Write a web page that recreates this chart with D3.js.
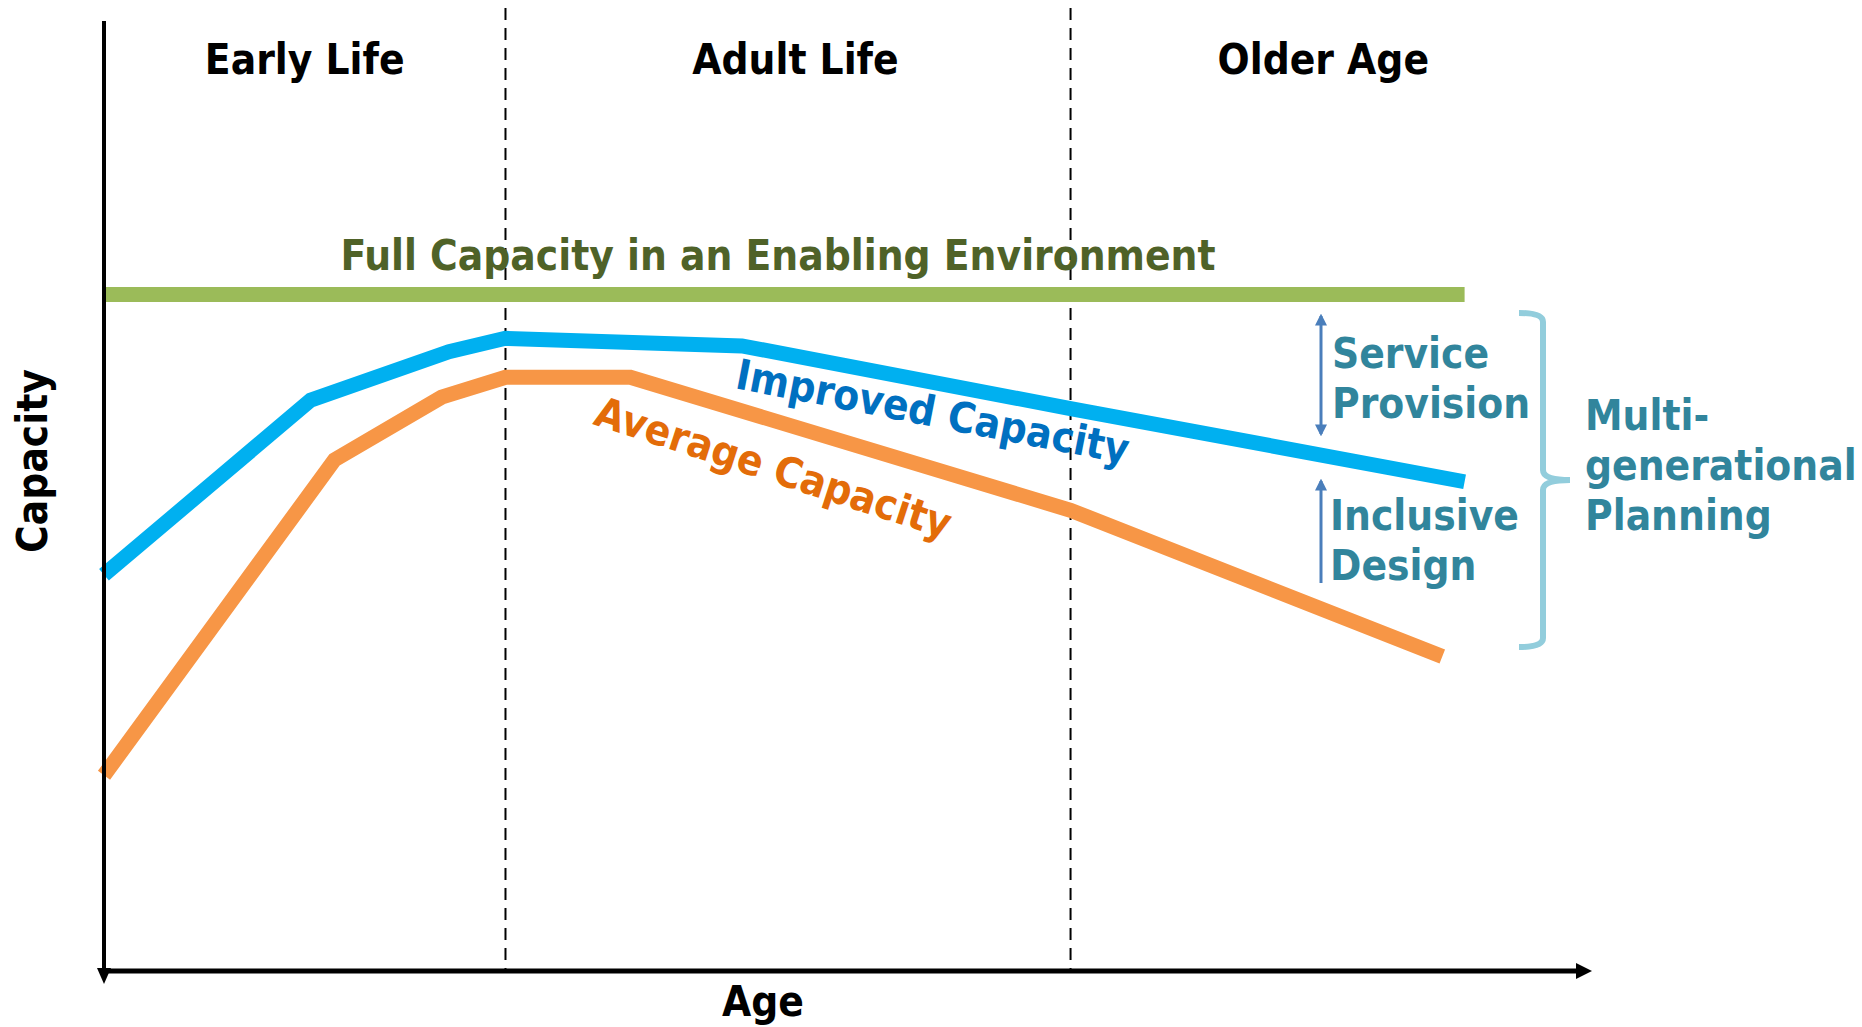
<!DOCTYPE html>
<html>
<head>
<meta charset="utf-8">
<script src="https://cdn.jsdelivr.net/npm/d3@7"></script>
<style>
  body { margin: 0; background: #fff; }
  text { font-family: "DejaVu Sans Condensed", "DejaVu Sans", sans-serif; font-weight: bold; }
</style>
</head>
<body>
<svg id="chart" width="1862" height="1027"></svg>
<script>
// age runs 0..100 along the x axis, capacity 0..100 up the y axis
var ages_improved = [0, 13.9, 23.2, 27, 42.9, 65, 91.5];
var improved = [41.7, 60.1, 65.2, 66.6, 65.8, 59.2, 51.5];

var ages_average = [0, 15.5, 22.7, 27, 35.4, 65, 90];
var average = [20.6, 53.8, 60.4, 62.5, 62.5, 48.5, 33.1];

var full_ages = [0, 91.5];
var full_capacity = [71.2, 71.2];

var phase_bounds = [27, 65];
var phases = ["Early Life", "Adult Life", "Older Age"];
var phase_centers = [13.5, 46.5, 82];

var w = 1862, h = 1027;
var svg = d3.select("#chart");
svg.append("rect").attr("width", w).attr("height", h).attr("fill", "#fff");

var x = d3.scaleLinear().domain([0, 100]).range([104, 1591]);
var y = d3.scaleLinear().domain([0, 100]).range([971, 21]);

// dashed phase separators
svg.selectAll("line.phase")
  .data(phase_bounds)
  .enter().append("line")
  .attr("class", "phase")
  .attr("x1", function(d) { return x(d); })
  .attr("x2", function(d) { return x(d); })
  .attr("y1", 8)
  .attr("y2", y(0))
  .attr("stroke", "#000")
  .attr("stroke-width", 2)
  .style("stroke-dasharray", "12,8");

// phase titles
svg.selectAll("text.phase")
  .data(phases)
  .enter().append("text")
  .attr("class", "phase")
  .attr("x", function(d, i) { return x(phase_centers[i]); })
  .attr("y", 74)
  .attr("text-anchor", "middle")
  .attr("font-size", 42)
  .attr("fill", "#000")
  .text(function(d) { return d; });

var line = d3.line()
  .x(function(d) { return x(d[0]); })
  .y(function(d) { return y(d[1]); });

// full capacity line
svg.append("path")
  .datum(d3.zip(full_ages, full_capacity))
  .attr("d", line)
  .attr("fill", "none")
  .attr("stroke", "#9BBB59")
  .attr("stroke-width", 15);

svg.append("text")
  .attr("x", 778)
  .attr("y", 270)
  .attr("text-anchor", "middle")
  .attr("font-size", 42)
  .attr("fill", "#4F6228")
  .text("Full Capacity in an Enabling Environment");

// capacity curves
svg.append("path")
  .datum(d3.zip(ages_improved, improved))
  .attr("d", line)
  .attr("fill", "none")
  .attr("stroke", "#00B0F0")
  .attr("stroke-width", 15);

svg.append("path")
  .datum(d3.zip(ages_average, average))
  .attr("d", line)
  .attr("fill", "none")
  .attr("stroke", "#F79646")
  .attr("stroke-width", 15);

svg.append("text")
  .attr("transform", "translate(734,388) rotate(11)")
  .attr("font-size", 42)
  .attr("fill", "#0070C0")
  .text("Improved Capacity");

svg.append("text")
  .attr("transform", "translate(592,424) rotate(18)")
  .attr("font-size", 42)
  .attr("fill", "#E36C09")
  .text("Average Capacity");

// axes
svg.append("line")
  .attr("x1", x(0)).attr("x2", x(0))
  .attr("y1", 21).attr("y2", 972)
  .attr("stroke", "#000").attr("stroke-width", 4);
svg.append("path")
  .attr("d", "M" + (x(0) - 7) + "," + 968 + "L" + (x(0) + 7) + "," + 968 + "L" + x(0) + "," + 984 + "Z")
  .attr("fill", "#000");

svg.append("line")
  .attr("x1", x(0) - 2).attr("x2", 1578)
  .attr("y1", y(0)).attr("y2", y(0))
  .attr("stroke", "#000").attr("stroke-width", 5);
svg.append("path")
  .attr("d", "M1576," + (y(0) - 8) + "L1592," + y(0) + "L1576," + (y(0) + 8) + "Z")
  .attr("fill", "#000");

svg.append("text")
  .attr("x", 763)
  .attr("y", 1016)
  .attr("text-anchor", "middle")
  .attr("font-size", 42)
  .attr("fill", "#000")
  .text("Age");

svg.append("text")
  .attr("transform", "translate(47,461) rotate(-90)")
  .attr("text-anchor", "middle")
  .attr("font-size", 42)
  .attr("fill", "#000")
  .text("Capacity");

// gap arrows
var arrowColor = "#4A7EBB";
var defs = svg.append("defs");
defs.append("marker")
  .attr("id", "head")
  .attr("viewBox", "0 0 10 10")
  .attr("refX", 8).attr("refY", 5)
  .attr("markerWidth", 4).attr("markerHeight", 4)
  .attr("orient", "auto-start-reverse")
  .append("path")
  .attr("d", "M0,0L10,5L0,10Z")
  .attr("fill", arrowColor);

svg.append("line")
  .attr("x1", 1321).attr("x2", 1321)
  .attr("y1", 316).attr("y2", 434)
  .attr("stroke", arrowColor).attr("stroke-width", 3)
  .attr("marker-start", "url(#head)")
  .attr("marker-end", "url(#head)");

svg.append("line")
  .attr("x1", 1321).attr("x2", 1321)
  .attr("y1", 583).attr("y2", 481)
  .attr("stroke", arrowColor).attr("stroke-width", 3)
  .attr("marker-end", "url(#head)");

var teal = "#31859C";
var notes = [
  {lines: ["Service", "Provision"], x: 1332, y: 368},
  {lines: ["Inclusive", "Design"], x: 1330, y: 530},
  {lines: ["Multi-", "generational", "Planning"], x: 1585, y: 430}
];
notes.forEach(function(n) {
  var t = svg.append("text")
    .attr("x", n.x).attr("y", n.y)
    .attr("font-size", 42)
    .attr("fill", teal);
  n.lines.forEach(function(s, i) {
    t.append("tspan").attr("x", n.x).attr("dy", i == 0 ? 0 : 50).text(s);
  });
});

// brace
svg.append("path")
  .attr("d", "M1519,313 Q1543,313 1543,322 L1543,470 Q1543,480 1570,480 Q1543,480 1543,490 L1543,638 Q1543,647 1519,647")
  .attr("fill", "none")
  .attr("stroke", "#92CDDC")
  .attr("stroke-width", 6);
</script>
</body>
</html>
